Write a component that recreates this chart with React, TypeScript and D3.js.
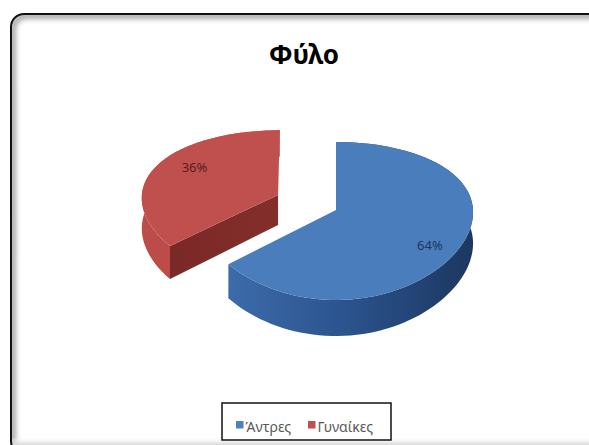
import React from "react";
import * as d3 from "d3";

const categories = ["Άντρες", "Γυναίκες"];
const values = [64, 36];
const valueLabels = ["64%", "36%"];
const title = "Φύλο";

const W = 589;
const H = 445;
const topColors = ["#4A7DBC", "#C0504D"];
const legendColors = ["#4F81BD", "#C0504D"];
const explode = [0, 0.47];

// 3D projection parameters
const cx = 336, cy = 210, Rx = 137, Ry = 77.5, depth = 31, px = 0.03, py = 0.139;

function proj(u: number, v: number, z: number): [number, number] {
  return [cx + (Rx * u) / (1 + px * v), cy + (-Ry * v + depth * z) / (1 + py * v)];
}

function pt(a: number, r: number, ou: number, ov: number, z: number) {
  return proj(ou + r * Math.sin(a), ov + r * Math.cos(a), z);
}

function arcPts(a0: number, a1: number, ou: number, ov: number, z: number) {
  const n = 90;
  const out: [number, number][] = [];
  for (let i = 0; i <= n; i++) {
    const a = a0 + ((a1 - a0) * i) / n;
    out.push(pt(a, 1, ou, ov, z));
  }
  return out;
}

const line = d3.line<[number, number]>().curve(d3.curveLinearClosed);

export default function App() {
  const pie = d3.pie<number>().sort(null).startAngle(0).endAngle(2 * Math.PI)(values);

  const slices = pie.map((p, i) => {
    const mid = (p.startAngle + p.endAngle) / 2;
    const ou = explode[i] * Math.sin(mid);
    const ov = explode[i] * Math.cos(mid);
    const c0 = proj(ou, ov, 0);
    const c1 = proj(ou, ov, 1);
    const topArc = arcPts(p.startAngle, p.endAngle, ou, ov, 0);
    const botArc = arcPts(p.startAngle, p.endAngle, ou, ov, 1);
    const top = line([c0, ...topArc]);
    const side = line([...topArc, ...botArc.slice().reverse()]);
    const cutA = p.endAngle > Math.PI ? p.startAngle : p.endAngle;
    const cut = line([c0, pt(cutA, 1, ou, ov, 0), pt(cutA, 1, ou, ov, 1), c1]);
    const la = mid + (7 * Math.PI) / 180;
    const lp = pt(la, i === 0 ? 0.8 : 0.74, ou, ov, 0);
    return { i, top, side, cut, lp };
  });

  const red = slices[1];
  const blue = slices[0];

  return (
    <svg
      width={W}
      height={H}
      style={{ position: "absolute", left: 0, top: 0, background: "#fff" }}
      fontFamily="'Noto Sans', 'Open Sans', sans-serif"
    >
      <defs>
        <clipPath id="frameClip">
          <rect x={11} y={14} width={595} height={440} rx={13} ry={13} />
        </clipPath>
        <filter id="blur3" x="-10%" y="-10%" width="120%" height="120%">
          <feGaussianBlur stdDeviation={2.5} />
        </filter>
        <linearGradient id="blueSide" x1="224" x2="476" y1="0" y2="0" gradientUnits="userSpaceOnUse">
          <stop offset="0" stopColor="#3D6CAB" />
          <stop offset="0.45" stopColor="#2C5590" />
          <stop offset="1" stopColor="#1C365F" />
        </linearGradient>
        <linearGradient id="redCut" x1="160" x2="280" y1="0" y2="0" gradientUnits="userSpaceOnUse">
          <stop offset="0" stopColor="#7A2826" />
          <stop offset="1" stopColor="#832E2B" />
        </linearGradient>
        <linearGradient id="bottomShade" x1="0" x2="0" y1="436" y2="445" gradientUnits="userSpaceOnUse">
          <stop offset="0" stopColor="#fff" stopOpacity={0} />
          <stop offset="1" stopColor="#d8d8d8" stopOpacity={1} />
        </linearGradient>
      </defs>

      <rect x={0} y={0} width={W} height={H} fill="#fff" />
      {/* inner shadow of frame */}
      <g clipPath="url(#frameClip)">
        <rect
          x={13}
          y={16}
          width={595}
          height={440}
          rx={13}
          ry={13}
          fill="none"
          stroke="#8a8a8a"
          strokeWidth={6}
          filter="url(#blur3)"
          opacity={0.75}
        />
      </g>
      <rect x={11} y={438} width={578} height={7} fill="url(#bottomShade)" />
      <rect x={11} y={14} width={595} height={440} rx={13} ry={13} fill="none" stroke="#111" strokeWidth={2} />

      <text x={304} y={64} textAnchor="middle" fontSize={26} fontWeight="bold" fill="#000">
        {title}
      </text>

      {/* red slice (behind) */}
      <path d={red.side ?? ""} fill="#BC4C49" />
      <path d={red.cut ?? ""} fill="url(#redCut)" />
      <path d={red.top ?? ""} fill={topColors[1]} />

      {/* blue slice */}
      <path d={blue.side ?? ""} fill="url(#blueSide)" />
      <path d={blue.top ?? ""} fill={topColors[0]} />

      {slices.map((s) => (
        <text
          key={s.i}
          x={s.lp[0]}
          y={s.lp[1]}
          textAnchor="middle"
          dominantBaseline="central"
          fontSize={13}
          fill={s.i === 0 ? "#1F3560" : "#5A1C1A"}
        >
          {valueLabels[s.i]}
        </text>
      ))}

      {/* legend */}
      <rect x={222} y={403} width={169} height={37} fill="#fff" stroke="#111" strokeWidth={1.5} />
      {categories.map((c, i) => {
        const x0 = i === 0 ? 236 : 308;
        return (
          <g key={c}>
            <rect x={x0} y={421} width={7.5} height={7.5} fill={legendColors[i]} />
            <text x={x0 + 9.5} y={432} fontSize={14} fill="#595959">
              {c}
            </text>
          </g>
        );
      })}
    </svg>
  );
}
